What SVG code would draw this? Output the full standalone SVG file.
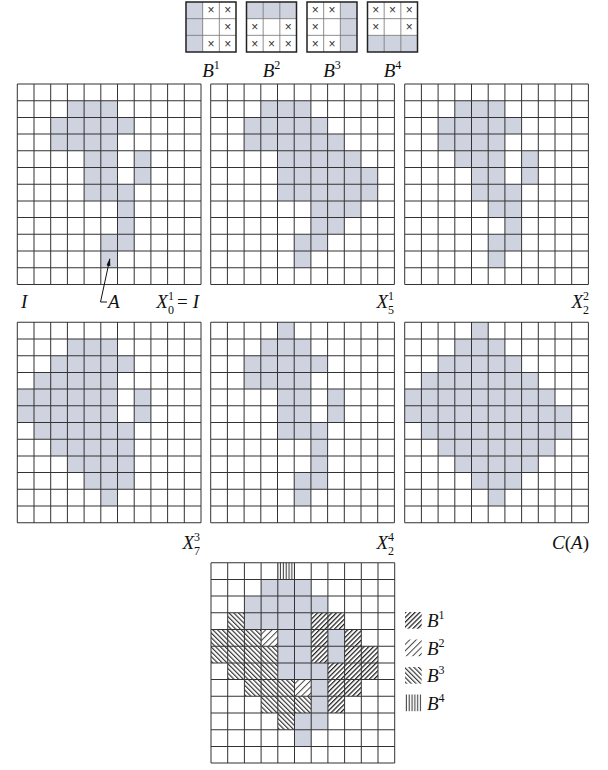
<svg xmlns="http://www.w3.org/2000/svg" xmlns:xlink="http://www.w3.org/1999/xlink" width="608" height="770" viewBox="0 0 608 770">
<style>
.a{fill:#cfd3df}
.gl{fill:none;stroke:#333;stroke-width:0.06}
.sel{fill:none;stroke:#777;stroke-width:0.05}
.seb{fill:none;stroke:#222;stroke-width:0.09}
.lbl{font-family:"Liberation Serif","Times New Roman",serif;font-style:italic;font-size:19px;fill:#111}
.n{font-style:normal}
.s{font-size:12px;font-style:normal}
.x{font-family:"Liberation Sans",Arial,sans-serif;font-size:12px;fill:#333;text-anchor:middle;dominant-baseline:central}
.con{fill:none;stroke:#111;stroke-width:1}
</style>
<defs>
<path id="grid" class="gl" d="M0 0H11M0 1H11M0 2H11M0 3H11M0 4H11M0 5H11M0 6H11M0 7H11M0 8H11M0 9H11M0 10H11M0 11H11M0 12H11M0 0V12M1 0V12M2 0V12M3 0V12M4 0V12M5 0V12M6 0V12M7 0V12M8 0V12M9 0V12M10 0V12M11 0V12"/>
<path id="se" class="sel" d="M1 0V3M2 0V3M0 1H3M0 2H3"/>
<pattern id="h1" patternUnits="userSpaceOnUse" width="0.2" height="1" patternTransform="rotate(45)"><rect width="0.075" height="1" fill="#222"/></pattern>
<pattern id="h2" patternUnits="userSpaceOnUse" width="0.27" height="1" patternTransform="rotate(45)"><rect width="0.06" height="1" fill="#444"/></pattern>
<pattern id="h3" patternUnits="userSpaceOnUse" width="0.2" height="1" patternTransform="rotate(-45)"><rect width="0.07" height="1" fill="#333"/></pattern>
<pattern id="h4" patternUnits="userSpaceOnUse" width="0.17" height="1"><rect x="0.05" width="0.055" height="1" fill="#222"/></pattern>
<marker id="arr" markerWidth="8" markerHeight="6" refX="7" refY="3" orient="auto" markerUnits="userSpaceOnUse"><path d="M0 1L8 3L0 5Z" fill="#111"/></marker>
</defs>
<rect width="608" height="770" fill="#fff"/>

<!-- structuring elements -->
<g id="B1">
<g transform="translate(186,2) scale(16.667)">
<rect class="a" x="0" y="0" width="1" height="3"/>
<use xlink:href="#se"/><rect class="seb" width="3" height="3"/>
</g>
<text class="x" x="211" y="10.3">×</text><text class="x" x="227.7" y="10.3">×</text>
<text class="x" x="227.7" y="27">×</text>
<text class="x" x="211" y="43.7">×</text><text class="x" x="227.7" y="43.7">×</text>
<text class="lbl" x="211" y="77" text-anchor="middle">B<tspan class="s" dy="-8">1</tspan></text>
</g>
<g id="B2">
<g transform="translate(246.5,2) scale(16.667)">
<rect class="a" x="0" y="0" width="3" height="1"/>
<use xlink:href="#se"/><rect class="seb" width="3" height="3"/>
</g>
<text class="x" x="254.8" y="27">×</text><text class="x" x="288.2" y="27">×</text>
<text class="x" x="254.8" y="43.7">×</text><text class="x" x="271.5" y="43.7">×</text><text class="x" x="288.2" y="43.7">×</text>
<text class="lbl" x="271.5" y="77" text-anchor="middle">B<tspan class="s" dy="-8">2</tspan></text>
</g>
<g id="B3">
<g transform="translate(307,2) scale(16.667)">
<rect class="a" x="2" y="0" width="1" height="3"/>
<use xlink:href="#se"/><rect class="seb" width="3" height="3"/>
</g>
<text class="x" x="315.3" y="10.3">×</text><text class="x" x="332" y="10.3">×</text>
<text class="x" x="315.3" y="27">×</text>
<text class="x" x="315.3" y="43.7">×</text><text class="x" x="332" y="43.7">×</text>
<text class="lbl" x="332" y="77" text-anchor="middle">B<tspan class="s" dy="-8">3</tspan></text>
</g>
<g id="B4">
<g transform="translate(367.5,2) scale(16.667)">
<rect class="a" x="0" y="2" width="3" height="1"/>
<use xlink:href="#se"/><rect class="seb" width="3" height="3"/>
</g>
<text class="x" x="375.8" y="10.3">×</text><text class="x" x="392.5" y="10.3">×</text><text class="x" x="409.2" y="10.3">×</text>
<text class="x" x="375.8" y="27">×</text><text class="x" x="409.2" y="27">×</text>
<text class="lbl" x="392.5" y="77" text-anchor="middle">B<tspan class="s" dy="-8">4</tspan></text>
</g>

<!-- I = X0^1 -->
<g id="grid-I">
<g transform="translate(17.3,84) scale(16.7)">
<rect class="a" x="3" y="1" width="3" height="1"/>
<rect class="a" x="2" y="2" width="5" height="1"/>
<rect class="a" x="2" y="3" width="4" height="1"/>
<rect class="a" x="4" y="4" width="2" height="1"/><rect class="a" x="7" y="4" width="1" height="1"/>
<rect class="a" x="4" y="5" width="2" height="1"/><rect class="a" x="7" y="5" width="1" height="1"/>
<rect class="a" x="4" y="6" width="3" height="1"/>
<rect class="a" x="6" y="7" width="1" height="1"/>
<rect class="a" x="6" y="8" width="1" height="1"/>
<rect class="a" x="5" y="9" width="2" height="1"/>
<rect class="a" x="5" y="10" width="1" height="1"/>
<use xlink:href="#grid"/>
</g>
<text class="lbl" x="21" y="308">I</text>
<text class="lbl" x="108" y="308">A</text>
<text class="lbl" x="199" y="308" text-anchor="end">X<tspan class="s" dy="-8">1</tspan><tspan class="s" dx="-6" dy="14">0</tspan><tspan class="n" dx="3" dy="-6">=</tspan><tspan dx="5">I</tspan></text>
</g>

<!-- X5^1 -->
<g id="grid-X1">
<g transform="translate(210.7,84) scale(16.7)">
<rect class="a" x="3" y="1" width="3" height="1"/>
<rect class="a" x="2" y="2" width="5" height="1"/>
<rect class="a" x="2" y="3" width="6" height="1"/>
<rect class="a" x="4" y="4" width="5" height="1"/>
<rect class="a" x="4" y="5" width="6" height="1"/>
<rect class="a" x="4" y="6" width="6" height="1"/>
<rect class="a" x="6" y="7" width="3" height="1"/>
<rect class="a" x="6" y="8" width="2" height="1"/>
<rect class="a" x="5" y="9" width="2" height="1"/>
<rect class="a" x="5" y="10" width="1" height="1"/>
<use xlink:href="#grid"/>
</g>
<text class="lbl" x="394" y="308" text-anchor="end">X<tspan class="s" dy="-8">1</tspan><tspan class="s" dx="-6" dy="14">5</tspan></text>
</g>

<!-- X2^2 -->
<g id="grid-X2">
<g transform="translate(404.7,84) scale(16.7)">
<rect class="a" x="3" y="1" width="3" height="1"/>
<rect class="a" x="2" y="2" width="5" height="1"/>
<rect class="a" x="2" y="3" width="4" height="1"/>
<rect class="a" x="3" y="4" width="3" height="1"/><rect class="a" x="7" y="4" width="1" height="1"/>
<rect class="a" x="4" y="5" width="2" height="1"/><rect class="a" x="7" y="5" width="1" height="1"/>
<rect class="a" x="4" y="6" width="3" height="1"/>
<rect class="a" x="5" y="7" width="2" height="1"/>
<rect class="a" x="6" y="8" width="1" height="1"/>
<rect class="a" x="5" y="9" width="2" height="1"/>
<rect class="a" x="5" y="10" width="1" height="1"/>
<use xlink:href="#grid"/>
</g>
<text class="lbl" x="589" y="308" text-anchor="end">X<tspan class="s" dy="-8">2</tspan><tspan class="s" dx="-6" dy="14">2</tspan></text>
</g>

<!-- X7^3 -->
<g id="grid-X3">
<g transform="translate(17.3,322.3) scale(16.7)">
<rect class="a" x="3" y="1" width="3" height="1"/>
<rect class="a" x="2" y="2" width="5" height="1"/>
<rect class="a" x="1" y="3" width="5" height="1"/>
<rect class="a" x="0" y="4" width="6" height="1"/><rect class="a" x="7" y="4" width="1" height="1"/>
<rect class="a" x="0" y="5" width="6" height="1"/><rect class="a" x="7" y="5" width="1" height="1"/>
<rect class="a" x="1" y="6" width="6" height="1"/>
<rect class="a" x="2" y="7" width="5" height="1"/>
<rect class="a" x="3" y="8" width="4" height="1"/>
<rect class="a" x="4" y="9" width="3" height="1"/>
<rect class="a" x="5" y="10" width="1" height="1"/>
<use xlink:href="#grid"/>
</g>
<text class="lbl" x="200" y="549" text-anchor="end">X<tspan class="s" dy="-8">3</tspan><tspan class="s" dx="-6" dy="14">7</tspan></text>
</g>

<!-- X2^4 -->
<g id="grid-X4">
<g transform="translate(210.7,322.3) scale(16.7)">
<rect class="a" x="4" y="0" width="1" height="1"/>
<rect class="a" x="3" y="1" width="3" height="1"/>
<rect class="a" x="2" y="2" width="5" height="1"/>
<rect class="a" x="2" y="3" width="4" height="1"/>
<rect class="a" x="4" y="4" width="2" height="1"/><rect class="a" x="7" y="4" width="1" height="1"/>
<rect class="a" x="4" y="5" width="2" height="1"/><rect class="a" x="7" y="5" width="1" height="1"/>
<rect class="a" x="4" y="6" width="3" height="1"/>
<rect class="a" x="6" y="7" width="1" height="1"/>
<rect class="a" x="6" y="8" width="1" height="1"/>
<rect class="a" x="5" y="9" width="2" height="1"/>
<rect class="a" x="5" y="10" width="1" height="1"/>
<use xlink:href="#grid"/>
</g>
<text class="lbl" x="394" y="549" text-anchor="end">X<tspan class="s" dy="-8">4</tspan><tspan class="s" dx="-6" dy="14">2</tspan></text>
</g>

<!-- C(A) -->
<g id="grid-CA">
<g transform="translate(404.7,322.3) scale(16.7)">
<rect class="a" x="4" y="0" width="1" height="1"/>
<rect class="a" x="3" y="1" width="3" height="1"/>
<rect class="a" x="2" y="2" width="5" height="1"/>
<rect class="a" x="1" y="3" width="7" height="1"/>
<rect class="a" x="0" y="4" width="9" height="1"/>
<rect class="a" x="0" y="5" width="10" height="1"/>
<rect class="a" x="1" y="6" width="9" height="1"/>
<rect class="a" x="2" y="7" width="7" height="1"/>
<rect class="a" x="3" y="8" width="5" height="1"/>
<rect class="a" x="4" y="9" width="3" height="1"/>
<rect class="a" x="5" y="10" width="1" height="1"/>
<use xlink:href="#grid"/>
</g>
<text class="lbl" x="589" y="549" text-anchor="end">C<tspan class="n">(</tspan>A<tspan class="n">)</tspan></text>
</g>

<!-- combined result -->
<g id="grid-result">
<g transform="translate(211,562.7) scale(16.7)">
<rect class="a" x="3" y="1" width="3" height="1"/>
<rect class="a" x="2" y="2" width="5" height="1"/>
<rect class="a" x="2" y="3" width="4" height="1"/>
<rect class="a" x="4" y="4" width="2" height="1"/><rect class="a" x="7" y="4" width="1" height="1"/>
<rect class="a" x="4" y="5" width="2" height="1"/><rect class="a" x="7" y="5" width="1" height="1"/>
<rect class="a" x="4" y="6" width="3" height="1"/>
<rect class="a" x="6" y="7" width="1" height="1"/>
<rect class="a" x="6" y="8" width="1" height="1"/>
<rect class="a" x="5" y="9" width="2" height="1"/>
<rect class="a" x="5" y="10" width="1" height="1"/>
<g fill="url(#h1)">
<rect x="6" y="3" width="2" height="1"/>
<rect x="6" y="4" width="1" height="1"/><rect x="8" y="4" width="1" height="1"/>
<rect x="6" y="5" width="1" height="1"/><rect x="8" y="5" width="2" height="1"/>
<rect x="7" y="6" width="3" height="1"/>
<rect x="7" y="7" width="2" height="1"/>
<rect x="7" y="8" width="1" height="1"/>
</g>
<g fill="url(#h2)">
<rect x="3" y="4" width="1" height="1"/>
<rect x="5" y="7" width="1" height="1"/>
</g>
<g fill="url(#h3)">
<rect x="1" y="3" width="1" height="1"/>
<rect x="0" y="4" width="3" height="1"/>
<rect x="0" y="5" width="4" height="1"/>
<rect x="1" y="6" width="3" height="1"/>
<rect x="2" y="7" width="3" height="1"/>
<rect x="3" y="8" width="3" height="1"/>
<rect x="4" y="9" width="1" height="1"/>
</g>
<rect x="4" y="0" width="1" height="1" fill="url(#h4)"/>
<use xlink:href="#grid"/>
</g>
</g>

<!-- legend -->
<g id="legend">
<g transform="translate(405,612) scale(16.7)">
<rect x="0" y="0" width="1" height="1" fill="url(#h1)"/>
<rect x="0" y="1.647" width="1" height="1" fill="url(#h2)"/>
<rect x="0" y="3.293" width="1" height="1" fill="url(#h3)"/>
<rect x="0" y="4.94" width="1" height="1" fill="url(#h4)"/>
</g>
<text class="lbl" x="427" y="627">B<tspan class="s" dy="-8">1</tspan></text>
<text class="lbl" x="427" y="654.5">B<tspan class="s" dy="-8">2</tspan></text>
<text class="lbl" x="427" y="682">B<tspan class="s" dy="-8">3</tspan></text>
<text class="lbl" x="427" y="709.5">B<tspan class="s" dy="-8">4</tspan></text>
</g>

<g id="connectors">
<path class="con" d="M107 302H100.5L109.8 259" marker-end="url(#arr)"/>
</g>
</svg>
